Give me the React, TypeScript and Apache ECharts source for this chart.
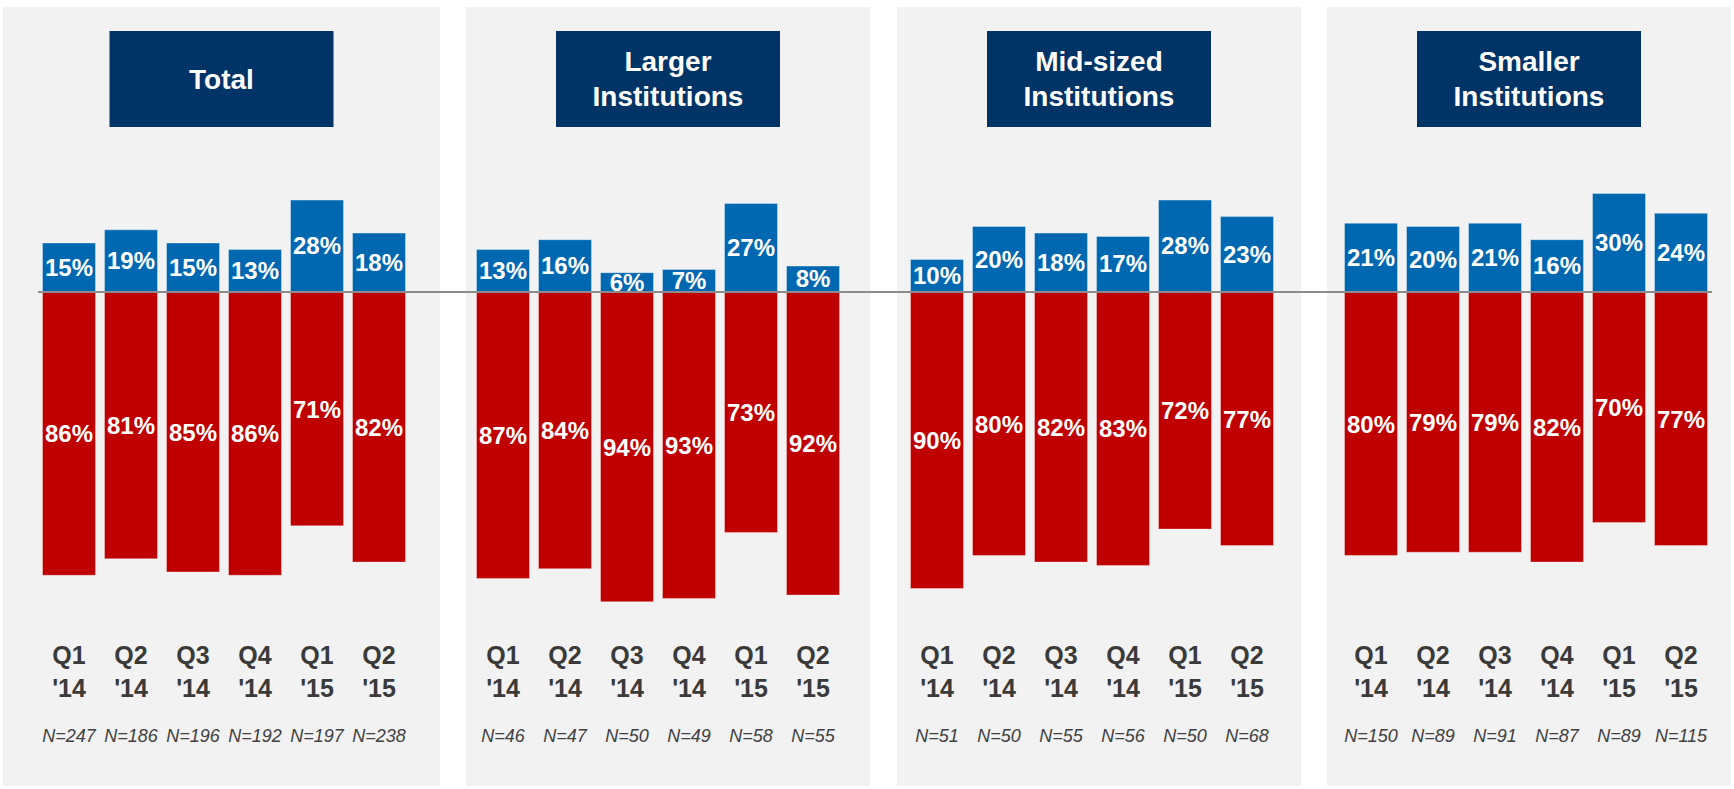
import React, { useEffect, useRef } from "react";
import * as echarts from "echarts";

// ---- data ----
const panelTitles = ["Total", "Larger\nInstitutions", "Mid-sized\nInstitutions", "Smaller\nInstitutions"];
const quarters = ["Q1", "Q2", "Q3", "Q4", "Q1", "Q2"];
const years = ["'14", "'14", "'14", "'14", "'15", "'15"];

const totalPositive = [15, 19, 15, 13, 28, 18];
const totalNegative = [86, 81, 85, 86, 71, 82];
const totalN = [247, 186, 196, 192, 197, 238];

const largerPositive = [13, 16, 6, 7, 27, 8];
const largerNegative = [87, 84, 94, 93, 73, 92];
const largerN = [46, 47, 50, 49, 58, 55];

const midPositive = [10, 20, 18, 17, 28, 23];
const midNegative = [90, 80, 82, 83, 72, 77];
const midN = [51, 50, 55, 56, 50, 68];

const smallerPositive = [21, 20, 21, 16, 30, 24];
const smallerNegative = [80, 79, 79, 82, 70, 77];
const smallerN = [150, 89, 91, 87, 89, 115];

const positives = [totalPositive, largerPositive, midPositive, smallerPositive];
const negatives = [totalNegative, largerNegative, midNegative, smallerNegative];
const sampleSizes = [totalN, largerN, midN, smallerN];

// ---- layout / style ----
const W = 1734;
const H = 789;
const FONT = "'Liberation Sans', Arial, Helvetica, sans-serif";
const BLUE = "#0068B1";
const RED = "#C00000";
const NAVY = "#003366";
const PANEL_BG = "#F2F2F2";
const panelEdges = [
  [3, 440],
  [466, 870],
  [897, 1301],
  [1327, 1731],
];
const PANEL_TOP = 7;
const PANEL_BOTTOM = 786;
const HEADER_W = 224;
const HEADER_H = 96;
const HEADER_TOP = 31;

export default function App() {
  const ref = useRef<HTMLDivElement | null>(null);

  useEffect(() => {
    if (!ref.current) return;
    const chart = echarts.init(ref.current, null, { renderer: "svg" });

    const categories: string[] = [];
    const slotQuarter: string[] = [];
    const slotYear: string[] = [];
    const slotN: string[] = [];
    const posData: any[] = [];
    const negData: any[] = [];
    panelTitles.forEach((title, p) => {
      quarters.forEach((q, i) => {
        categories.push(`${p}-${q} ${years[i]}`);
        slotQuarter.push(q);
        slotYear.push(years[i]);
        slotN.push(`N=${sampleSizes[p][i]}`);
        posData.push(positives[p][i]);
        negData.push(-negatives[p][i]);
      });
      if (p < panelTitles.length - 1) {
        categories.push(`gap-${p}`);
        slotQuarter.push("");
        slotYear.push("");
        slotN.push("");
        posData.push("-");
        negData.push("-");
      }
    });

    const graphics: any[] = [];
    panelEdges.forEach(([x0, x1], p) => {
      graphics.push({
        type: "rect",
        z: -10,
        silent: true,
        shape: { x: x0, y: PANEL_TOP, width: x1 - x0, height: PANEL_BOTTOM - PANEL_TOP },
        style: { fill: PANEL_BG },
      });
      const cx = (x0 + x1) / 2;
      graphics.push({
        type: "rect",
        z: -5,
        silent: true,
        shape: { x: cx - HEADER_W / 2, y: HEADER_TOP, width: HEADER_W, height: HEADER_H },
        style: { fill: NAVY },
      });
      graphics.push({
        type: "text",
        z: -4,
        silent: true,
        x: cx,
        y: HEADER_TOP + HEADER_H / 2,
        style: {
          text: panelTitles[p],
          fill: "#ffffff",
          font: `bold 28px ${FONT}`,
          fontFamily: FONT,
          fontWeight: "bold",
          fontSize: 28,
          lineHeight: 35,
          align: "center",
          verticalAlign: "middle",
        },
      });
    });

    const labelStyle = {
      show: true,
      position: "inside",
      color: "#ffffff",
      fontFamily: FONT,
      fontWeight: "bold",
      fontSize: 24,
    };

    chart.setOption({
      animation: false,
      backgroundColor: "#ffffff",
      textStyle: { fontFamily: FONT },
      graphic: graphics,
      grid: { left: 38, right: W - 38 - 1674, top: 160, bottom: H - 622, containLabel: false },
      xAxis: [
        {
          type: "category",
          data: categories,
          position: "bottom",
          axisLine: { show: false },
          axisTick: { show: false },
          splitLine: { show: false },
          axisLabel: {
            interval: 0,
            margin: 16,
            hideOverlap: false,
            formatter: (_v: string, idx: number) =>
              slotQuarter[idx]
                ? `{q|${slotQuarter[idx]}}\n{q|${slotYear[idx]}}\n{n|${slotN[idx]}}`
                : "",
            rich: {
              q: {
                fontFamily: FONT,
                fontWeight: "bold",
                fontSize: 25,
                lineHeight: 33,
                color: "#3a3a3a",
                align: "center",
              },
              n: {
                fontFamily: FONT,
                fontStyle: "italic",
                fontSize: 18,
                lineHeight: 64,
                color: "#404040",
                align: "center",
              },
            },
          },
        },
      ],
      yAxis: {
        type: "value",
        min: -100,
        max: 40,
        interval: 20,
        show: false,
        splitLine: { show: false },
      },
      series: [
        {
          name: "positive",
          type: "bar",
          data: posData,
          barWidth: 54,
          barGap: "-100%",
          itemStyle: { color: BLUE, borderColor: "rgba(255,255,255,0.35)", borderWidth: 1 },
          label: { ...labelStyle, formatter: (p: any) => `${p.value}%` },
          z: 2,
          markLine: {
            silent: true,
            symbol: ["none", "none"],
            label: { show: false },
            lineStyle: { color: "#8c8c8c", width: 2, type: "solid" },
            data: [{ yAxis: 0 }],
            z: 5,
          },
        },
        {
          name: "negative",
          type: "bar",
          data: negData,
          barWidth: 54,
          barGap: "-100%",
          itemStyle: { color: RED, borderColor: "rgba(255,255,255,0.35)", borderWidth: 1 },
          label: { ...labelStyle, formatter: (p: any) => `${Math.abs(p.value)}%` },
          z: 2,
        },
      ],
    });

    return () => chart.dispose();
  }, []);

  return (
    <div
      ref={ref}
      style={{ position: "absolute", left: 0, top: 0, width: W, height: H, background: "#ffffff" }}
    />
  );
}
